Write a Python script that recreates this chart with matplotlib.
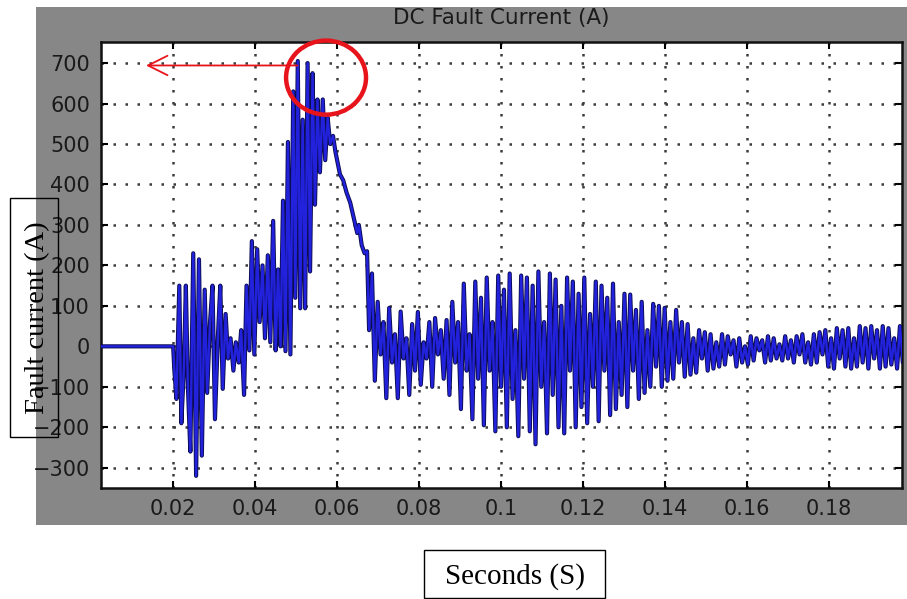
import numpy as np
import matplotlib
matplotlib.use("Agg")
import matplotlib.pyplot as plt
from matplotlib.patches import Rectangle, Ellipse

# Waveform: time in ms, current in A (peaks and troughs)
t_ms = [0.0, 20.0,
        20.3, 20.8, 21.5, 22.0, 22.6, 23.1, 23.6, 24.2, 24.9, 25.6,
        26.3, 27.0, 27.7, 28.3, 29.0, 29.6, 30.2, 30.9, 31.5, 32.1,
        32.8, 33.4, 34.0, 34.7, 35.3, 36.0, 36.6, 37.3, 37.9, 38.6,
        39.2, 39.8, 40.5, 41.1, 41.8, 42.4, 43.1, 43.7, 44.4, 45.0,
        45.6, 46.2, 46.8, 47.4, 48.0, 48.6, 49.3, 49.8, 50.4, 51.0,
        51.6, 52.2, 52.8, 53.4, 54.0, 54.6, 55.2, 55.8, 56.5, 57.1,
        57.7, 58.3, 59.0, 59.6, 60.7, 61.5, 62.3, 63.2, 64.0, 64.9,
        65.3, 66.0, 66.7, 67.3,
        67.8, 68.5, 69.2, 69.9, 70.6, 71.3, 72.0, 72.7, 73.4, 74.1,
        74.8, 75.5, 76.2, 76.9, 77.6, 78.3, 79.0, 79.7, 80.4, 81.1,
        81.8, 82.5, 83.2, 83.9, 84.6, 85.3, 86.0, 86.7, 87.4, 88.1,
        88.8, 89.5, 90.2, 90.9, 91.6, 92.3, 93.0, 93.7, 94.4, 95.1,
        95.8, 96.5, 97.2, 97.9, 98.6, 99.3, 100.0, 100.7, 101.4, 102.1,
        102.8, 103.5, 104.2, 104.9, 105.6, 106.3, 107.0, 107.7, 108.4, 109.1,
        109.8, 110.5, 111.2, 111.9, 112.6, 113.3, 114.0, 114.7, 115.4, 116.1,
        116.8, 117.5, 118.2, 118.9, 119.6, 120.3, 121.0, 121.7, 122.4, 123.1,
        123.8, 124.5, 125.2, 125.9, 126.6, 127.3, 128.0, 128.7, 129.4, 130.1,
        130.8, 131.5, 132.2, 132.9, 133.6, 134.3, 135.0, 135.7, 136.4, 137.1,
        137.8, 138.5, 139.2, 139.9, 140.6, 141.3, 142.0, 142.7, 143.4, 144.1,
        144.8, 145.5, 146.2, 146.9, 147.6, 148.3, 149.0, 149.7, 150.4, 151.1,
        151.8, 152.5, 153.2, 153.9, 154.6, 155.3, 156.0, 156.7, 157.4, 158.1,
        158.8, 159.5, 160.2, 160.9, 161.6, 162.3, 163.0, 163.7, 164.4, 165.1,
        165.8, 166.5, 167.2, 167.9, 168.6, 169.3, 170.0, 170.7, 171.4, 172.1,
        172.8, 173.5, 174.2, 174.9, 175.6, 176.3, 177.0, 177.7, 178.4, 179.1,
        179.8, 180.5, 181.2, 181.9, 182.6, 183.3, 184.0, 184.7, 185.4, 186.1,
        186.8, 187.5, 188.2, 188.9, 189.6, 190.3, 191.0, 191.7, 192.4, 193.1,
        193.8, 194.5, 195.2, 195.9, 196.6, 197.3, 198.0, 198.7]
current = [0, 0,
           -60, -130, 150, -190, -60, 150, -100, -260, 230, -320,
           215, -270, 140, -115, 60, 150, -180, 20, 150, -105,
           80, -30, 20, -60, 10, -40, 40, -120, 150, -10,
           260, -20, 240, 60, 200, 20, 225, 10, 310, -10,
           190, 0, 360, -12, 505, -20, 630, 120, 705, 94,
           560, 94, 700, 185, 675, 350, 610, 430, 610, 460,
           565, 500, 520, 480, 425, 410, 380, 355, 320, 280,
           300, 250, 230, 235,
           40, 180, -85, 110, -20, 60, -128, 95, -40, 30,
           -128, 86, -30, 20, -120, 55, -60, 85, -95, 10,
           -30, 60, -100, 70, -20, 40, -80, 65, -120, 110,
           -40, 60, -155, 155, -60, 30, -180, 160, -80, 120,
           -195, 170, -60, 60, -210, 175, -100, 140, -200, 180,
           -130, 40, -222, 175, -80, 170, -210, 150, -242, 185,
           -100, 60, -215, 180, -120, 165, -200, 100, -215, 170,
           -60, 160, -200, 130, -150, 170, -190, 80, -100, 160,
           -185, 150, -60, 120, -170, 155, -155, 60, -120, 130,
           -150, 128, -60, 90, -130, 110, -115, 40, -100, 105,
           -50, 100, -100, 95, -85, 60, -80, 90, -40, 60,
           -75, 55, -70, 20, -65, 40, -30, 35, -60, 30,
           -55, 10, -50, 30, -45, 25, -20, 15, -50, 20,
           -40, 0, -45, 25, -35, 20, -10, 15, -40, 25,
           -35, 20, -30, 5, -35, 25, -30, 15, -40, 25,
           -20, 30, -40, 10, -45, 30, -40, 35, -20, 40,
           -50, 20, -55, 45, -30, 40, -50, 45, -55, 20,
           -50, 50, -40, 45, -55, 50, -30, 40, -55, 50,
           -50, 45, -45, 20, -55, 50, -40, 45]

x_ticks = [0.02, 0.04, 0.06, 0.08, 0.1, 0.12, 0.14, 0.16, 0.18]
x_tick_labels = ['0.02', '0.04', '0.06', '0.08', '0.1', '0.12', '0.14', '0.16', '0.18']
y_ticks = [-300, -200, -100, 0, 100, 200, 300, 400, 500, 600, 700]

t = np.array(t_ms) / 1000.0
i_a = np.array(current)

W, H = 907, 599
fig = plt.figure(figsize=(W / 100, H / 100), dpi=100)
fig.patch.set_facecolor('white')


def fig_box(x0, y0, x1, y1, **kw):
    # rectangle given in picture pixels (top-left origin)
    return Rectangle((x0 / W, 1 - y1 / H), (x1 - x0) / W, (y1 - y0) / H,
                     transform=fig.transFigure, **kw)


# gray MATLAB figure panel
fig.patches.append(fig_box(36, 7, 907, 525, facecolor='#878787', edgecolor='none', zorder=-5))

ax = fig.add_axes([101 / W, 1 - 488 / H, (902 - 101) / W, (488 - 42) / H])
ax.set_facecolor('white')

ax.plot(t, i_a, color='#0c0c50', lw=3.0, zorder=3)
ax.plot(t, i_a, color='#2222dc', lw=1.7, zorder=4)

ax.set_xlim(0.0024, 0.1978)
ax.set_ylim(-350, 752)
ax.set_xticks(x_ticks)
ax.set_xticklabels(x_tick_labels)
ax.set_yticks(y_ticks)
ax.tick_params(direction='in', length=5, width=1.5, top=True, right=True,
               labelsize=15, labelcolor='#1a1a1a', pad=8)
ax.grid(True, color='#3c3c3c', linestyle=(0, (1, 3.8)), linewidth=1.8)
for s in ax.spines.values():
    s.set_linewidth(1.8)
    s.set_color('#111111')

fig.text(501 / W, 1 - 18 / H, 'DC Fault Current (A)', ha='center', va='center',
         fontsize=15.5, color='#1a1a1a')

# red highlight of the peak
ax.add_patch(Ellipse((0.0573, 664), 0.0195, 183, fill=False, edgecolor='#e8141c',
                     linewidth=3.2, clip_on=False, zorder=6))
ax.annotate('', xy=(0.0127, 694), xytext=(0.051, 694),
            arrowprops=dict(arrowstyle='->, head_length=1.4, head_width=0.7',
                            color='#e8141c', lw=1.3), zorder=6)

# boxed axis labels
fig.patches.append(fig_box(10, 198, 58, 437, facecolor='none', edgecolor='black', lw=1, zorder=5))
fig.text(38 / W, 1 - 318 / H, 'Fault current (A)', rotation=90, ha='center', va='center',
         family='Liberation Serif', fontsize=20.5, zorder=6)
fig.patches.append(fig_box(424, 550, 605, 598, facecolor='white', edgecolor='black', lw=1, zorder=5))
fig.text(515 / W, 1 - 577 / H, 'Seconds (S)', ha='center', va='center',
         family='Liberation Serif', fontsize=21, zorder=6)

fig.savefig('out.png', dpi=100)
